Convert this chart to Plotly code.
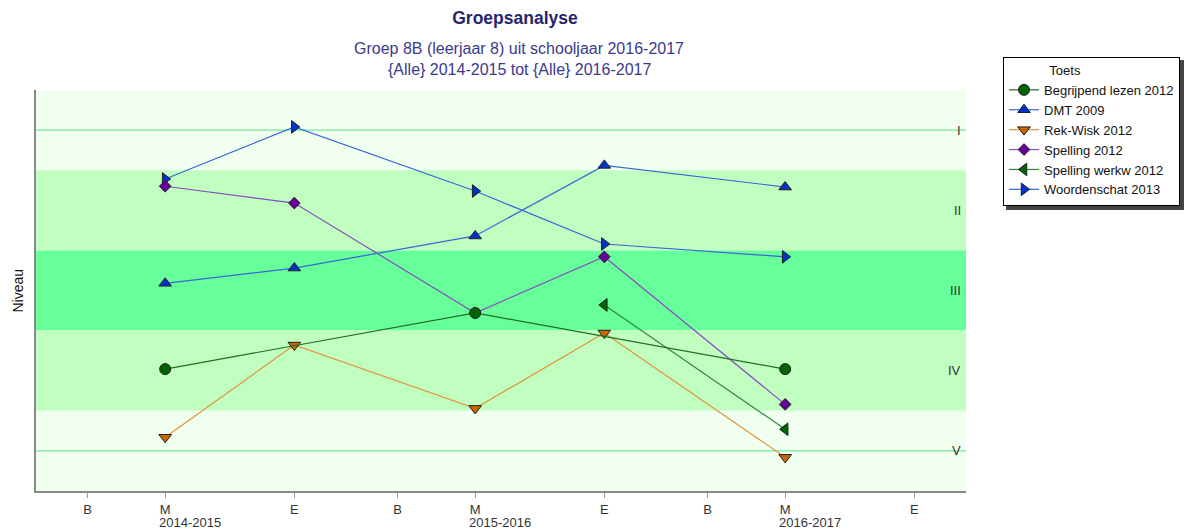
import plotly.graph_objects as go

# Periods on the x axis: B(egin), M(idden), E(ind) per schooljaar
years = ['2014-2015', '2015-2016', '2016-2017']
period_labels = ['B', 'M', 'E']
period_months = [0, 3, 8]   # months after start of schooljaar

tick_vals = [i * 12 + m for i in range(len(years)) for m in period_months]
tick_text = [p for _ in years for p in period_labels]

def xpos(year, period):
    return years.index(year) * 12 + period_months[period_labels.index(period)]

# Niveau (1 = I ... 5 = V)
begrijpend_x = [('2014-2015', 'M'), ('2015-2016', 'M'), ('2016-2017', 'M')]
begrijpend_y = [3.98, 3.28, 3.98]

dmt_x = [('2014-2015', 'M'), ('2014-2015', 'E'), ('2015-2016', 'M'), ('2015-2016', 'E'), ('2016-2017', 'M')]
dmt_y = [2.91, 2.72, 2.32, 1.44, 1.71]

rekwisk_x = dmt_x
rekwisk_y = [4.83, 3.68, 4.47, 3.53, 5.08]

spelling_x = dmt_x
spelling_y = [1.70, 1.91, 3.28, 2.58, 4.42]

werkw_x = [('2015-2016', 'E'), ('2016-2017', 'M')]
werkw_y = [3.18, 4.73]

woorden_x = dmt_x
woorden_y = [1.61, 0.96, 1.76, 2.42, 2.58]

levels = ['I', 'II', 'III', 'IV', 'V']
band_colors = ['#f0fff0', '#c0ffc0', '#66ff99', '#c0ffc0', '#f0fff0']

# (legend rank, name, x, y, line colour, marker colour, symbol) in drawing order
series = [
    (2, 'DMT 2009', dmt_x, dmt_y, '#3a66d6', '#0033cc', 'triangle-up'),
    (3, 'Rek-Wisk 2012', rekwisk_x, rekwisk_y, '#e0963c', '#cc6600', 'triangle-down'),
    (5, 'Spelling werkw 2012', werkw_x, werkw_y, '#2e8b3e', '#006400', 'triangle-left'),
    (6, 'Woordenschat 2013', woorden_x, woorden_y, '#3a66d6', '#0033cc', 'triangle-right'),
    (4, 'Spelling 2012', spelling_x, spelling_y, '#8a4cc0', '#660099', 'diamond'),
    (1, 'Begrijpend lezen 2012', begrijpend_x, begrijpend_y, '#1e6e1e', '#006400', 'circle'),
]

fig = go.Figure()

for rank, name, xs, ys, lcol, mcol, sym in series:
    fig.add_trace(go.Scatter(
        x=[xpos(y, p) for y, p in xs], y=ys, name=name, mode='lines+markers',
        legendrank=rank,
        line=dict(color=lcol, width=1.2),
        marker=dict(symbol=sym, size=11 if sym != 'diamond' else 9, color=mcol,
                    line=dict(color='#202020', width=1)),
    ))

# level bands
for i, col in enumerate(band_colors):
    fig.add_shape(type='rect', xref='paper', x0=0, x1=1, yref='y', y0=i + 0.5, y1=i + 1.5,
                  fillcolor=col, line_width=0, layer='below')
for lv in [1, 5]:
    fig.add_shape(type='line', xref='paper', x0=0, x1=1, yref='y', y0=lv, y1=lv,
                  line=dict(color='#7ae89c', width=1.2), layer='below')

for i, lv in enumerate(levels):
    fig.add_annotation(x=1, xref='paper', y=i + 1, yref='y', text=lv, showarrow=False,
                       xanchor='right', xshift=-3, font=dict(size=13, color='#333333'))

# year labels under the M ticks
for yr in years:
    fig.add_annotation(x=xpos(yr, 'M'), xref='x', y=0, yref='paper', yanchor='middle', yshift=-31,
                       text=yr, showarrow=False, xanchor='left', xshift=-8,
                       font=dict(size=13, color='#333333'))

# sub titles
fig.add_annotation(x=0.5194, xref='paper', y=1, yref='paper', yanchor='middle', yshift=42,
                   text='Groep 8B (leerjaar 8) uit schooljaar 2016-2017',
                   showarrow=False, font=dict(size=16, color='#3a3a8c'))
fig.add_annotation(x=0.5194, xref='paper', y=1, yref='paper', yanchor='middle', yshift=21,
                   text='{Alle} 2014-2015 tot {Alle} 2016-2017',
                   showarrow=False, font=dict(size=16, color='#3a3a8c'))
fig.add_annotation(x=-0.0204, xref='paper', y=0.5, yref='paper', text='Niveau', textangle=-90,
                   xanchor='center', showarrow=False, font=dict(size=14, color='#111111'))

# legend shadow
fig.add_shape(type='rect', xref='paper', yref='paper', x0=1.043, x1=1.2366, y0=0.7007, y1=1.0748,
              fillcolor='#444444', line_width=0)

# page body adds 8px around the figure
fig.update_layout(
    width=1184, height=523,
    margin=dict(l=28, r=226, t=82, b=40, autoexpand=False),
    paper_bgcolor='white', plot_bgcolor='white',
    font=dict(family='Liberation Sans, Arial', size=13, color='#222222'),
    title=dict(text='<b>Groepsanalyse</b>', x=0.515, xref='paper', xanchor='center',
               y=0.981, yref='container', yanchor='middle',
               font=dict(size=17.5, color='#25256e')),
    xaxis=dict(range=[-2, 34], tickvals=tick_vals, ticktext=tick_text, showgrid=False,
               zeroline=False, showline=True, linecolor='#888888', linewidth=2,
               ticks='outside', ticklen=5, tickcolor='#999999',
               tickfont=dict(size=13, color='#333333')),
    yaxis=dict(range=[5.5, 0.5], showticklabels=False, showgrid=False, zeroline=False,
               showline=True, linecolor='#888888', linewidth=2, ticks=''),
    legend=dict(x=1.0398, xanchor='left', y=1.0823, yanchor='top',
                bgcolor='white', bordercolor='#000000', borderwidth=1,
                title=dict(text='\u00a0' * 12 + 'Toets', font=dict(size=13)),
                font=dict(size=13, color='#111111'), itemwidth=30,
                tracegroupgap=0),
    showlegend=True,
)

fig.write_html('out.html')
